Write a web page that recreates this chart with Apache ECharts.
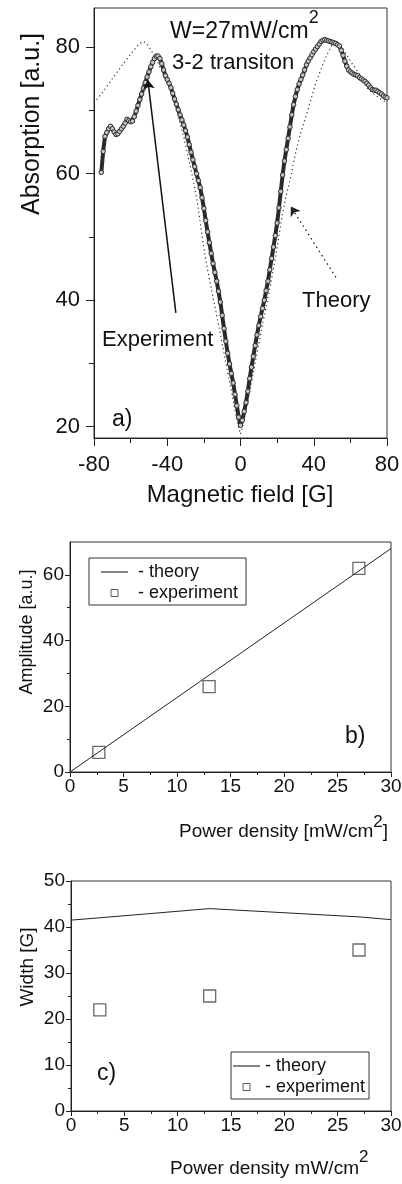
<!DOCTYPE html>
<html>
<head>
<meta charset="utf-8">
<script src="https://cdn.jsdelivr.net/npm/echarts@6/dist/echarts.min.js"></script>
<style>
  html, body { margin: 0; padding: 0; background: #fff; }
  #chart { width: 402px; height: 1184px; }
</style>
</head>
<body>
<div id="chart"></div>
<script>
// ---- Panel a: absorption vs magnetic field, 3-2 transition at W = 27 mW/cm^2 ----
const expField = [
  -76,-75,-74,-73,-72,-71,-70,-69,-68,-67,-66,-65,-64,-63,-62,-61,-60,-59,-58,-57,
  -56,-55,-54,-53,-52,-51,-50,-49,-48,-47,-46,-45,-44,-43,-42,-41,-40,-39,-38,-37,
  -36,-35,-34,-33,-32,-31,-30,-29,-28,-27,-26,-25,-24,-23,-22,-21,-20,-19,-18,-17,
  -16,-15,-14,-13,-12,-11,-10,-9,-8,-7,-6,-5,-4,-3,-2,-1,0,1,2,3,
  4,5,6,7,8,9,10,11,12,13,14,15,16,17,18,19,20,21,22,23,
  24,25,26,27,28,29,30,31,32,33,34,35,36,37,38,39,40,41,42,43,
  44,45,46,47,48,49,50,51,52,53,54,55,56,57,58,59,60,61,62,63,
  64,65,66,67,68,69,70,71,72,73,74,75,76,77,78,79,80
];
const expAbsorption = [
  60.2,63.5,65.9,66.5,67.1,67.5,67.1,66.6,66.2,66.3,66.7,67.1,67.5,68.0,68.6,68.4,68.2,68.3,69.0,69.9,
  70.8,71.7,72.6,73.5,74.4,75.3,76.1,76.9,77.6,78.2,78.6,78.6,78.2,77.4,76.4,75.5,74.9,74.3,73.6,72.7,
  71.8,71.0,70.1,69.3,68.5,67.7,66.8,65.8,64.6,63.4,62.2,61.1,60.0,58.9,57.8,56.2,54.5,52.6,50.8,49.1,
  47.4,45.8,44.4,43.0,41.4,39.7,37.6,35.5,33.5,31.6,29.9,28.4,26.9,25.1,23.3,21.5,20.2,21.0,22.4,23.8,
  25.6,27.6,29.4,31.1,32.8,34.5,36.0,37.4,38.7,40.0,41.5,43.0,44.8,46.6,48.4,50.2,52.2,54.6,57.2,59.8,
  62.0,63.8,65.6,67.4,69.3,70.9,72.2,73.3,74.2,74.9,75.6,76.4,77.2,77.8,78.3,78.8,79.3,79.7,80.1,80.5,
  80.9,81.1,81.2,81.1,81.0,80.9,80.8,80.7,80.6,80.4,80.2,79.5,78.7,77.8,77.0,76.4,76.1,75.9,75.7,75.6,
  75.5,75.2,75.0,74.8,74.6,74.3,74.0,73.6,73.3,73.2,73.2,73.0,72.8,72.6,72.3,72.1,72.0
];
const theoryField = [
  -80,-76,-72,-68,-64,-60,-57,-55,-53,-51,-49,-47,-45,-43,-41,-39,-37,-35,-33,-31,
  -29,-27,-25,-23,-21,-19,-17,-15,-13,-11,-9,-7,-5,-3,-1,0,1,3,5,7,
  9,11,13,15,17,19,21,23,25,27,29,31,33,35,37,39,41,43,45,47,
  49,51,53,55,57,59,61,63,65,67,69,72,76,80
];
const theoryAbsorption = [
  71.2,72.6,74.2,75.8,77.4,78.9,80.0,80.6,80.9,80.5,79.6,78.6,77.5,76.2,75.0,73.8,72.2,70.2,68.0,65.8,
  63.3,60.6,57.8,54.4,50.2,46.4,43.4,40.4,37.5,34.6,31.6,28.6,25.6,22.6,19.8,18.8,19.8,22.6,25.6,28.6,
  31.6,34.6,37.5,40.4,43.4,46.6,50.2,53.8,56.6,58.9,61.8,64.4,66.6,68.4,70.3,72.3,74.2,75.8,77.3,78.7,
  79.8,80.8,80.7,80.2,79.3,78.3,77.4,76.6,75.6,74.6,73.6,72.8,71.9,71.2
];
// Arrow annotations, in data coordinates (tail -> head)
const experimentArrow = { from: [-35.3, 38.0], to: [-50.6, 74.8] };
const theoryArrow = { from: [52.1, 43.6], to: [27.5, 54.8] };

// ---- Panels b and c: amplitude and width vs power density ----
const powerDensity = [2.7, 13, 27];
const amplitudeExp = [6, 26, 62];
const amplitudeTheoryPower = [0, 30];
const amplitudeTheory = [0, 68];
const widthExp = [22, 25, 35];
const widthTheoryPower = [0, 2.7, 13, 27, 30];
const widthTheory = [41.5, 42.0, 44.0, 42.2, 41.6];

// ---- Tick positions ----
const fieldTicks = [-80, -40, 0, 40, 80];
const fieldMinor = [-60, -20, 20, 60];
const absTicks = [20, 40, 60, 80];
const absMinor = [30, 50, 70];
const powerTicks = [0, 5, 10, 15, 20, 25, 30];
const powerMinor = [2.5, 7.5, 12.5, 17.5, 22.5, 27.5];
const ampTicks = [0, 20, 40, 60];
const ampMinor = [10, 30, 50];
const widthTicks = [0, 10, 20, 30, 40, 50];
const widthMinor = [5, 15, 25, 35, 45];

const FONT = '"Liberation Sans", Arial, Helvetica, sans-serif';
const INK = '#111';
const AXIS = '#222';

const zip = (xs, ys) => xs.map((x, i) => [x, ys[i]]);

// A labelled axis with long ticks plus a companion axis carrying only the short ticks.
function axisPair(kind, grid, min, max, major, minor, fontSize, margin, majorLen, minorLen) {
  const base = {
    type: 'value', gridIndex: grid, min: min, max: max,
    position: kind === 'x' ? 'bottom' : 'left',
    splitLine: { show: false }, minorTick: { show: false }
  };
  return [
    Object.assign({}, base, {
      axisLine: { show: true, onZero: false, lineStyle: { color: AXIS, width: 1 } },
      axisTick: { show: true, customValues: major, length: majorLen, lineStyle: { color: AXIS, width: 1 } },
      axisLabel: { show: true, customValues: major, fontSize: fontSize, fontFamily: FONT, color: INK, margin: margin }
    }),
    Object.assign({}, base, {
      axisLine: { show: false, onZero: false },
      axisTick: { show: true, customValues: minor, length: minorLen, lineStyle: { color: AXIS, width: 1 } },
      axisLabel: { show: false }
    })
  ];
}

const xAxes = [].concat(
  axisPair('x', 0, -80, 80, fieldTicks, fieldMinor, 22, 16, 8, 5),
  axisPair('x', 1, 0, 30, powerTicks, powerMinor, 19, 5, 5, 3),
  axisPair('x', 2, 0, 30, powerTicks, powerMinor, 19, 5, 5, 3)
);
const yAxes = [].concat(
  axisPair('y', 0, 18.2, 86.2, absTicks, absMinor, 22, 14, 8, 5),
  axisPair('y', 1, 0, 70, ampTicks, ampMinor, 19, 6, 5, 3),
  axisPair('y', 2, 0, 50, widthTicks, widthMinor, 19, 6, 5, 3)
);

const gridBase = { show: true, borderColor: '#333', borderWidth: 1, backgroundColor: 'transparent', containLabel: false, outerBoundsMode: 'none' };

const squareStyle = { color: 'rgba(255,255,255,0)', borderColor: '#444', borderWidth: 1.3 };

function legendFor(left, top, padding, textPad) {
  return {
    orient: 'vertical', left: left, top: top,
    itemWidth: 27, itemHeight: 7, itemGap: 3,
    padding: padding, borderColor: '#333', borderWidth: 1,
    selectedMode: false, symbolKeepAspect: true,
    textStyle: { fontSize: 18, fontFamily: FONT, color: INK, padding: [0, 0, 0, textPad] },
    formatter: name => '- ' + name,
    data: [
      { name: 'theory', icon: 'path://M0,0H27V1.2H0Z',
        itemStyle: { color: '#333', borderWidth: 0 } },
      { name: 'experiment', icon: 'path://M0,0H10V10H0Z',
        itemStyle: { color: '#fff', borderColor: '#333', borderWidth: 1 } }
    ]
  };
}

const measureCtx = document.createElement('canvas').getContext('2d');
function textWidth(text, size) {
  measureCtx.font = size + 'px ' + FONT;
  return measureCtx.measureText(text).width;
}

function label(x, y, text, size, opts) {
  return {
    type: 'text', x: x, y: y, silent: true,
    style: Object.assign({ text: text, fontSize: size, fontFamily: FONT, fill: INK, align: 'left', verticalAlign: 'middle' }, opts || {})
  };
}
function rotated(x, y, text, size) {
  const el = label(x, y, text, size, { align: 'center' });
  el.rotation = Math.PI / 2;
  return el;
}
// Text followed by a raised "2" (and optional trailing text); y is the middle of the main line
function withSup(x, y, pre, post, size, supSize, lift, align) {
  const wPre = textWidth(pre, size);
  const wSup = textWidth('2', supSize);
  const wPost = post ? textWidth(post, size) : 0;
  const x0 = align === 'right' ? x - (wPre + wSup + wPost) : x;
  const parts = [
    label(x0, y, pre, size),
    label(x0 + wPre, y - lift, '2', supSize)
  ];
  if (post) parts.push(label(x0 + wPre + wSup, y, post, size));
  return parts;
}

const option = {
  animation: false,
  backgroundColor: '#fff',
  textStyle: { fontFamily: FONT },
  grid: [
    Object.assign({ left: 94, top: 8, width: 293, height: 430 }, gridBase),
    Object.assign({ left: 70, top: 542, width: 321, height: 230 }, gridBase),
    Object.assign({ left: 71, top: 881, width: 320, height: 230 }, gridBase)
  ],
  xAxis: xAxes,
  yAxis: yAxes,
  legend: [
    legendFor(89, 558, [5, 8, 3, 12], 5),
    legendFor(231, 1052, [5, 4, 3, 2], 0)
  ],
  series: [
    {
      name: 'Theory curve', type: 'line', xAxisIndex: 0, yAxisIndex: 0,
      data: zip(theoryField, theoryAbsorption),
      symbol: 'none', clip: false, silent: true,
      lineStyle: { color: '#333', width: 1.2, type: [1.2, 3] },
      markLine: {
        silent: true, symbol: ['none', 'arrow'], symbolSize: 9,
        label: { show: false },
        lineStyle: { color: '#222', width: 1.3, type: [1.5, 3.5] },
        data: [[{ coord: theoryArrow.from }, { coord: theoryArrow.to }]]
      }
    },
    {
      name: 'Experiment data', type: 'line', xAxisIndex: 0, yAxisIndex: 0,
      data: zip(expField, expAbsorption),
      symbol: 'circle', symbolSize: 4.5, showAllSymbol: true, clip: false, silent: true,
      lineStyle: { color: '#2a2a2a', width: 4 },
      itemStyle: { color: '#c4c4c4', borderColor: '#2e2e2e', borderWidth: 1 },
      markLine: {
        silent: true, symbol: ['none', 'arrow'], symbolSize: 9,
        label: { show: false },
        lineStyle: { color: '#111', width: 1.5, type: 'solid' },
        data: [[{ coord: experimentArrow.from }, { coord: experimentArrow.to }]]
      }
    },
    {
      name: 'theory', type: 'line', xAxisIndex: 2, yAxisIndex: 2,
      data: zip(amplitudeTheoryPower, amplitudeTheory),
      symbol: 'none', silent: true,
      itemStyle: { color: '#222' },
      lineStyle: { color: '#222', width: 1 }
    },
    {
      name: 'experiment', type: 'scatter', xAxisIndex: 2, yAxisIndex: 2,
      data: zip(powerDensity, amplitudeExp),
      symbol: 'rect', symbolSize: 12, silent: true, itemStyle: squareStyle
    },
    {
      name: 'theory', type: 'line', xAxisIndex: 4, yAxisIndex: 4,
      data: zip(widthTheoryPower, widthTheory),
      symbol: 'none', silent: true,
      itemStyle: { color: '#222' },
      lineStyle: { color: '#222', width: 1 }
    },
    {
      name: 'experiment', type: 'scatter', xAxisIndex: 4, yAxisIndex: 4,
      data: zip(powerDensity, widthExp),
      symbol: 'rect', symbolSize: 12, silent: true, itemStyle: squareStyle
    }
  ],
  graphic: [].concat(
    // panel a
    [
      rotated(32, 124, 'Absorption [a.u.]', 25),
      label(240, 495, 'Magnetic field [G]', 24, { align: 'center' }),
      label(172, 63, '3-2 transiton', 22),
      label(102, 340, 'Experiment', 22),
      label(302, 301, 'Theory', 22),
      label(112, 420, 'a)', 23)
    ],
    withSup(170, 32, 'W=27mW/cm', '', 23, 18, 13.5, 'left'),
    // panel b
    [
      rotated(27, 632, 'Amplitude [a.u.]', 18),
      label(345, 737, 'b)', 23)
    ],
    withSup(388, 832, 'Power density [mW/cm', ']', 19, 17, 10, 'right'),
    // panel c
    [
      rotated(28, 967, 'Width [G]', 19),
      label(97, 1074, 'c)', 23)
    ],
    withSup(170, 1169, 'Power density mW/cm', '', 19, 17, 11.5, 'left')
  )
};

const chart = echarts.init(document.getElementById('chart'), null, { renderer: 'canvas' });
chart.setOption(option);
</script>
</body>
</html>
